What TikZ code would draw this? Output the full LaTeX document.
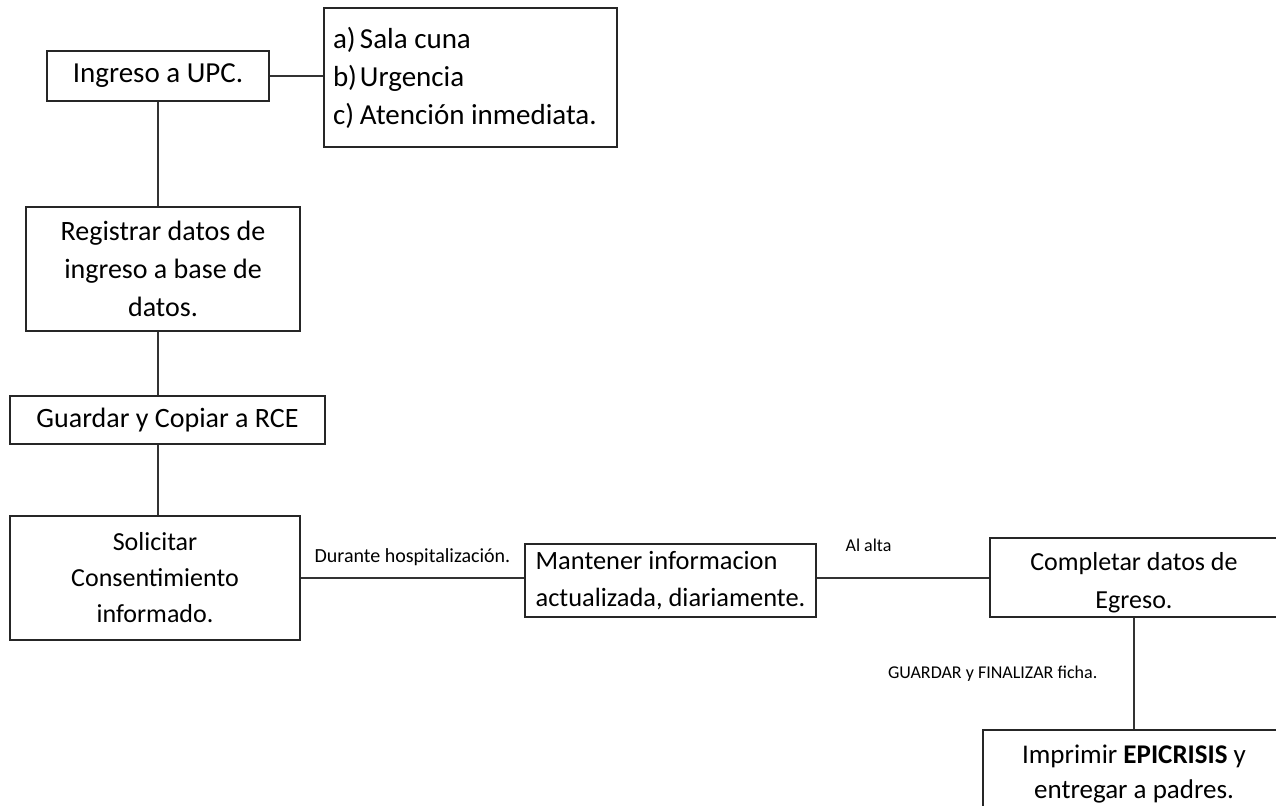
\documentclass[tikz,border=0pt]{standalone}
\usepackage{fontspec}
\setmainfont{Carlito}
\tikzset{
  caja/.style={draw=black!85, line width=0.7pt, align=center, inner sep=3pt},
  linea/.style={draw=black!80, line width=0.7pt},
  etiqueta/.style={inner sep=1pt}
}
\newcommand{\letra}[1]{\fontsize{#1}{19}\selectfont}
\newcommand{\bajar}[1]{\raisebox{-2.5pt}[\height][\depth]{#1}}
\begin{document}
\begin{tikzpicture}[x=0.5pt,y=-0.5pt]
	\clip (0,0) rectangle (1276,805);
	\fill [white] (0,0) rectangle (1276,805);
	% cajas
	\node [caja, font=\letra{14.5}, minimum width=111pt, minimum height=25pt] (ingreso) at (158,76) {Ingreso a UPC.};
	\node [caja, font=\letra{14.5}, align=flush left, text width=137.5pt, inner xsep=4.5pt, minimum height=69.5pt] (opciones) at (470.5,77.5)
		{\makebox[13.5pt][l]{a)}Sala cuna\\ \makebox[13.5pt][l]{b)}Urgencia\\ \makebox[13.5pt][l]{c)}Atención inmediata.};
	\node [caja, font=\letra{14}, minimum width=137pt, minimum height=62pt] (registrar) at (163,269) {Registrar datos de\\ ingreso a base de\\ datos.};
	\node [caja, font=\letra{14}, minimum width=157.5pt, minimum height=24pt] (guardar) at (167.5,420) {Guardar y Copiar a RCE};
	\node [caja, font={\fontsize{13}{18}\selectfont}, minimum width=145pt, minimum height=62pt] (solicitar) at (155,578) {Solicitar\\ Consentimiento\\ informado.};
	\node [caja, font={\fontsize{13.2}{18.5}\selectfont}, align=left, minimum width=145.5pt, minimum height=36.5pt] (mantener) at (670.5,580.5)
		{Mantener informacion\\ actualizada, diariamente.};
	\node [caja, font={\fontsize{13}{19}\selectfont}, minimum width=144pt, minimum height=39.5pt] (completar) at (1134,577.5) {\bajar{Completar datos de}\\ \bajar{Egreso.}};
	\node [caja, font={\fontsize{13.5}{17.5}\selectfont}, minimum width=151pt, minimum height=44pt] (imprimir) at (1134,774) {Imprimir \textbf{EPICRISIS} y\\ entregar a padres.};
	% conectores
	\draw [linea] (ingreso.east) -- (ingreso.east -| opciones.west);
	\draw [linea] (ingreso.south) -- (ingreso.south |- registrar.north);
	\draw [linea] (ingreso.south |- registrar.south) -- (ingreso.south |- guardar.north);
	\draw [linea] (ingreso.south |- guardar.south) -- (ingreso.south |- solicitar.north);
	\draw [linea] (solicitar.east) -- node [etiqueta, font=\fontsize{10}{12}\selectfont, above=5pt] {Durante hospitalización.} (solicitar.east -| mantener.west);
	\draw [linea] (solicitar.east -| mantener.east) -- node [etiqueta, font=\fontsize{9}{11}\selectfont, pos=0.3, above=12pt] {Al alta} (solicitar.east -| completar.west);
	\draw [linea] (completar.south) -- node [etiqueta, font=\fontsize{9}{11}\selectfont, left=17pt] {GUARDAR y FINALIZAR ficha.} (imprimir.north);
\end{tikzpicture}
\end{document}
